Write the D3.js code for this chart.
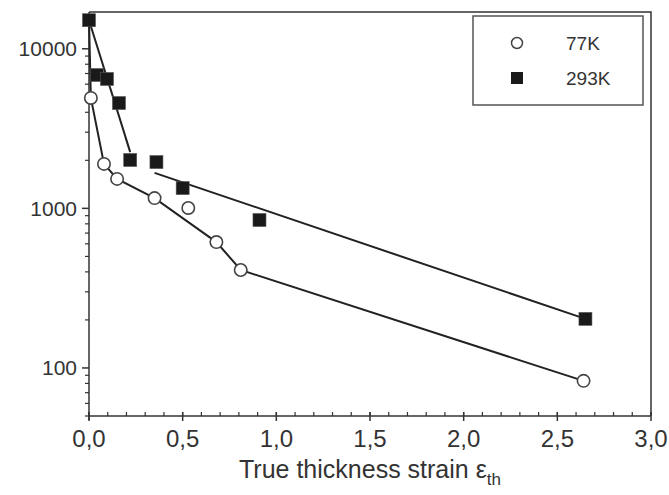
<!DOCTYPE html>
<html>
<head>
<meta charset="utf-8">
<script src="https://cdn.jsdelivr.net/npm/d3@7"></script>
<style>
  body { margin: 0; background: #fff; }
  svg text { font-family: "Liberation Sans", Arial, sans-serif; fill: #333; }
</style>
</head>
<body>
<svg id="chart" width="669" height="495"></svg>
<script>
// 77K (open circles)
var strain77 = [0.01, 0.08, 0.15, 0.35, 0.53, 0.68, 0.81, 2.64];
var stress77 = [4920, 1900, 1530, 1160, 1006, 615, 411, 83];
// polyline drawn for 77K (starts at the shared first point)
var line77X = [0, 0.01, 0.08, 0.15, 0.35, 0.68, 0.81, 2.64];
var line77Y = [15100, 4920, 1900, 1530, 1160, 615, 411, 83];

// 293K (filled squares)
var strain293 = [0, 0.043, 0.096, 0.16, 0.22, 0.36, 0.50, 0.91, 2.65];
var stress293 = [15100, 6850, 6470, 4570, 2010, 1950, 1340, 845, 203];
// two straight fits for 293K
var fit293aX = [0, 0.22];
var fit293aY = [15100, 2250];
var fit293bX = [0.35, 2.65];
var fit293bY = [1670, 203];

var xTicks = [0, 0.5, 1, 1.5, 2, 2.5, 3];
var yTicks = [100, 1000, 10000];
var legendLabels = ["77K", "293K"];

var svg = d3.select("#chart");
var plotLeft = 89, plotRight = 651, plotTop = 12, plotBottom = 416;

var x = d3.scaleLinear().domain([0, 3]).range([plotLeft, plotRight]);
var y = d3.scaleLog().domain([50, 17000]).range([plotBottom, plotTop]);

var ink = "#333";

/* frame: top and right */
svg.append("path")
    .attr("d", "M" + plotLeft + "," + plotTop + "H" + plotRight + "V" + plotBottom)
    .attr("fill", "none").attr("stroke", ink).attr("stroke-width", 1.5);

/* y axis, log with minor ticks outside */
var yMinor = [];
[10, 100, 1000, 10000].forEach(function (d) {
    for (var k = 2; k <= 9; k++) {
        var v = d * k;
        if (v >= 50 && v <= 17000) yMinor.push(v);
    }
});
var yAxis = svg.append("g").attr("transform", "translate(" + plotLeft + ",0)");
yAxis.append("line").attr("x1", 0).attr("x2", 0).attr("y1", plotTop).attr("y2", plotBottom + 4)
    .attr("stroke", ink).attr("stroke-width", 1.5);
yAxis.selectAll(".minor").data(yMinor).enter().append("line")
    .attr("x1", -4).attr("x2", 0)
    .attr("y1", function (d) { return y(d); }).attr("y2", function (d) { return y(d); })
    .attr("stroke", ink).attr("stroke-width", 1.2);
yAxis.selectAll(".major").data(yTicks).enter().append("line")
    .attr("x1", -7).attr("x2", 0)
    .attr("y1", function (d) { return y(d); }).attr("y2", function (d) { return y(d); })
    .attr("stroke", ink).attr("stroke-width", 1.5);
yAxis.selectAll("text").data(yTicks).enter().append("text")
    .attr("x", -12).attr("y", function (d) { return y(d); })
    .attr("dy", "0.35em").attr("text-anchor", "end")
    .style("font-size", "21px")
    .text(function (d) { return d; });

/* x axis */
var xMinor = d3.range(0, 31).map(function (i) { return i / 10; });
var xAxis = svg.append("g").attr("transform", "translate(0," + plotBottom + ")");
xAxis.append("line").attr("x1", plotLeft).attr("x2", plotRight).attr("y1", 0).attr("y2", 0)
    .attr("stroke", ink).attr("stroke-width", 1.5);
xAxis.selectAll(".minor").data(xMinor).enter().append("line")
    .attr("x1", function (d) { return x(d); }).attr("x2", function (d) { return x(d); })
    .attr("y1", -4).attr("y2", 0)
    .attr("stroke", ink).attr("stroke-width", 1.2);
xAxis.selectAll(".major").data(xTicks).enter().append("line")
    .attr("x1", function (d) { return x(d); }).attr("x2", function (d) { return x(d); })
    .attr("y1", -4).attr("y2", 5)
    .attr("stroke", ink).attr("stroke-width", 1.5);
xAxis.selectAll("text").data(xTicks).enter().append("text")
    .attr("x", function (d) { return x(d); }).attr("y", 31)
    .attr("text-anchor", "middle")
    .style("font-size", "24px")
    .text(function (d) { return d3.format(".1f")(d).replace(".", ","); });

var title = svg.append("text")
    .attr("x", x(1.5)).attr("y", 478)
    .attr("text-anchor", "middle")
    .style("font-size", "25px");
title.append("tspan").text("True thickness strain \u03b5");
title.append("tspan").attr("dy", 7).style("font-size", "17px").text("th");

/* lines */
var line = d3.line()
    .x(function (d) { return x(d[0]); })
    .y(function (d) { return y(d[1]); });
function pairs(xs, ys) { return xs.map(function (v, i) { return [v, ys[i]]; }); }

[pairs(line77X, line77Y), pairs(fit293aX, fit293aY), pairs(fit293bX, fit293bY)].forEach(function (p) {
    svg.append("path").datum(p).attr("d", line)
        .attr("fill", "none").attr("stroke", "#222").attr("stroke-width", 2);
});

/* markers */
var sq = 13;
svg.selectAll(".sq").data(pairs(strain293, stress293)).enter().append("rect")
    .attr("x", function (d) { return x(d[0]) - sq / 2; })
    .attr("y", function (d) { return y(d[1]) - sq / 2; })
    .attr("width", sq).attr("height", sq)
    .attr("fill", "#1a1a1a").attr("stroke", "#555").attr("stroke-width", 0.6);

svg.selectAll(".ci").data(pairs(strain77, stress77)).enter().append("circle")
    .attr("cx", function (d) { return x(d[0]); })
    .attr("cy", function (d) { return y(d[1]); })
    .attr("r", 6.2)
    .attr("fill", "#fff").attr("stroke", "#444").attr("stroke-width", 1.6);

/* legend */
var lg = svg.append("g");
lg.append("rect").attr("x", 473).attr("y", 16).attr("width", 170).attr("height", 89)
    .attr("fill", "#fff").attr("stroke", "#555").attr("stroke-width", 1.5);
lg.append("circle").attr("cx", 517).attr("cy", 43).attr("r", 5.5)
    .attr("fill", "#fff").attr("stroke", "#444").attr("stroke-width", 1.5);
lg.append("rect").attr("x", 511).attr("y", 72).attr("width", 12).attr("height", 12)
    .attr("fill", "#1a1a1a");
lg.selectAll("text").data(legendLabels).enter().append("text")
    .attr("x", 566).attr("y", function (d, i) { return 43 + i * 35; })
    .attr("dy", "0.35em")
    .style("font-size", "19px")
    .text(function (d) { return d; });
</script>
</body>
</html>
